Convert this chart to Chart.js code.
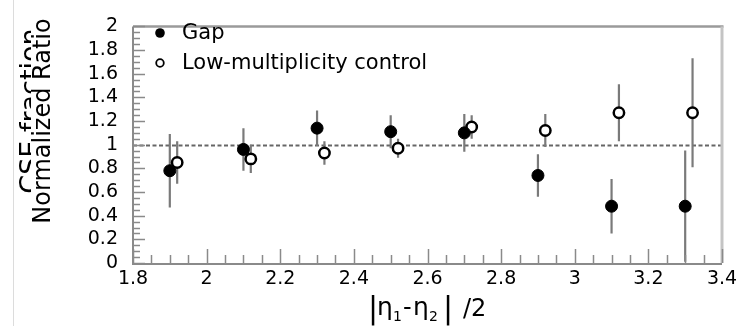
<!DOCTYPE html>
<html>
<head>
<meta charset="utf-8">
<script src="https://cdn.jsdelivr.net/npm/chart.js@4/dist/chart.umd.min.js"></script>
<style>
  html, body { margin: 0; padding: 0; background: #fff; }
  #wrap { width: 746px; height: 326px; position: relative; }
  canvas { display: block; }
</style>
</head>
<body>
<div id="wrap"><canvas id="c" width="746" height="326"></canvas></div>
<script>
// Bin centres (|eta1-eta2|/2) and measured normalized ratios
const gapX = [1.90, 2.10, 2.30, 2.50, 2.70, 2.90, 3.10, 3.30];
const gapY = [0.78, 0.96, 1.14, 1.11, 1.10, 0.74, 0.48, 0.48];
const gapErr = [0.31, 0.18, 0.15, 0.14, 0.16, 0.18, 0.23, 0.47];

const ctrlX = [1.92, 2.12, 2.32, 2.52, 2.72, 2.92, 3.12, 3.32];
const ctrlY = [0.85, 0.88, 0.93, 0.97, 1.15, 1.12, 1.27, 1.27];
const ctrlErr = [0.18, 0.12, 0.10, 0.08, 0.10, 0.14, 0.24, 0.46];

const xTicks = [1.8, 2.0, 2.2, 2.4, 2.6, 2.8, 3.0, 3.2, 3.4];
const yTicks = [0, 0.2, 0.4, 0.6, 0.8, 1.0, 1.2, 1.4, 1.6, 1.8, 2.0];
const seriesNames = ['Gap', 'Low-multiplicity control'];

const FONT = '"DejaVu Sans", sans-serif';

function toPoints(xs, ys) { return xs.map((x, i) => ({ x: x, y: ys[i] })); }
function fmt(v) { return String(Number(v.toFixed(2))); }

const errors = [gapErr, ctrlErr];

const decorations = {
  id: 'decorations',
  beforeDatasetsDraw(chart) {
    const { ctx, chartArea: a, scales: { x, y } } = chart;
    ctx.save();
    // reference line at ratio = 1
    ctx.strokeStyle = '#666';
    ctx.lineWidth = 1.8;
    ctx.setLineDash([4, 2.5]);
    const y1 = Math.round(y.getPixelForValue(1)) + 0.5;
    ctx.beginPath(); ctx.moveTo(a.left, y1); ctx.lineTo(a.right, y1); ctx.stroke();
    ctx.setLineDash([]);
    // vertical error bars
    ctx.beginPath(); ctx.rect(a.left, a.top, a.right - a.left, a.bottom - a.top); ctx.clip();
    chart.data.datasets.forEach((ds, di) => {
      ctx.strokeStyle = '#7a7a7a';
      ctx.lineWidth = 2.2;
      ds.data.forEach((p, i) => {
        const e = errors[di][i];
        const px = x.getPixelForValue(p.x);
        ctx.beginPath();
        ctx.moveTo(px, y.getPixelForValue(p.y + e));
        ctx.lineTo(px, y.getPixelForValue(p.y - e));
        ctx.stroke();
      });
    });
    ctx.restore();
  },
  afterDraw(chart) {
    const { ctx, chartArea: a, scales: { x, y } } = chart;
    ctx.save();
    // thin page rule on the far left
    ctx.strokeStyle = '#dcdcdc'; ctx.lineWidth = 1;
    ctx.beginPath(); ctx.moveTo(13.5, 0); ctx.lineTo(13.5, 326); ctx.stroke();

    // frame
    ctx.strokeStyle = '#9a9a9a'; ctx.lineWidth = 2.5;
    ctx.beginPath(); ctx.moveTo(a.left, a.top); ctx.lineTo(a.right + 1.5, a.top); ctx.stroke();
    ctx.strokeStyle = '#c4c4c4'; ctx.lineWidth = 3;
    ctx.beginPath(); ctx.moveTo(a.right, a.top); ctx.lineTo(a.right, a.bottom); ctx.stroke();
    ctx.strokeStyle = '#8a8a8a'; ctx.lineWidth = 2;
    ctx.beginPath(); ctx.moveTo(a.left, a.top); ctx.lineTo(a.left, a.bottom + 1); ctx.lineTo(a.right, a.bottom + 1); ctx.stroke();

    // inward tick marks (major 0.2, minor 0.05)
    ctx.lineWidth = 1.5; ctx.strokeStyle = '#8a8a8a';
    for (let k = 0; k <= 40; k++) {
      const v = k * 0.05;
      const py = Math.round(y.getPixelForValue(v)) + 0.5;
      const len = (k % 4 === 0) ? 12 : 7;
      ctx.beginPath(); ctx.moveTo(a.left, py); ctx.lineTo(a.left + len, py); ctx.stroke();
    }
    for (let k = 0; k <= 32; k++) {
      const v = 1.8 + k * 0.05;
      const px = Math.round(x.getPixelForValue(v)) + 0.5;
      const len = (k % 4 === 0) ? 14 : 8;
      ctx.beginPath(); ctx.moveTo(px, a.bottom); ctx.lineTo(px, a.bottom - len); ctx.stroke();
    }

    // legend
    ctx.fillStyle = '#000';
    ctx.beginPath(); ctx.arc(160, 33, 4.8, 0, Math.PI * 2); ctx.fill();
    ctx.strokeStyle = '#000'; ctx.lineWidth = 1.8;
    ctx.fillStyle = '#fff';
    ctx.beginPath(); ctx.arc(160, 63, 3.8, 0, Math.PI * 2); ctx.fill(); ctx.stroke();
    ctx.fillStyle = '#000';
    ctx.font = '21px ' + FONT;
    ctx.textAlign = 'left'; ctx.textBaseline = 'alphabetic';
    ctx.fillText(seriesNames[0], 182, 39);
    ctx.fillText(seriesNames[1], 182, 69);

    // y-axis title (two overlapping lines, the rear one partly hidden)
    ctx.save();
    ctx.beginPath(); ctx.rect(0, 0, 31, 326); ctx.clip();
    ctx.translate(39, 111); ctx.rotate(-Math.PI / 2);
    ctx.font = '27px ' + FONT; ctx.textAlign = 'center'; ctx.fillStyle = '#000';
    ctx.fillText('CSE fraction', 0, 0);
    ctx.restore();
    ctx.save();
    ctx.translate(50, 121); ctx.rotate(-Math.PI / 2);
    ctx.font = '24px ' + FONT; ctx.textAlign = 'center'; ctx.fillStyle = '#000';
    ctx.fillText('Normalized Ratio', 0, 0);
    ctx.restore();

    // x-axis title |eta1-eta2| /2
    ctx.fillStyle = '#000'; ctx.textAlign = 'left';
    ctx.font = '30px ' + FONT;
    ctx.fillText('|', 368, 318);
    ctx.font = '25px ' + FONT;
    ctx.fillText('\u03b7', 377, 315);
    ctx.font = '14px ' + FONT;
    ctx.fillText('1', 393, 321);
    ctx.font = '24px ' + FONT;
    ctx.fillText('-', 403, 315);
    ctx.font = '25px ' + FONT;
    ctx.fillText('\u03b7', 413, 315);
    ctx.font = '14px ' + FONT;
    ctx.fillText('2', 429, 321);
    ctx.font = '30px ' + FONT;
    ctx.fillText('|', 443, 318);
    ctx.font = '24px ' + FONT;
    ctx.fillText('/2', 463, 316);
    ctx.restore();
  }
};

new Chart(document.getElementById('c'), {
  type: 'scatter',
  data: {
    datasets: [
      {
        label: seriesNames[0],
        data: toPoints(gapX, gapY),
        pointStyle: 'circle',
        pointRadius: 6,
        pointBackgroundColor: '#000',
        pointBorderColor: '#000',
        pointBorderWidth: 1
      },
      {
        label: seriesNames[1],
        data: toPoints(ctrlX, ctrlY),
        pointStyle: 'circle',
        pointRadius: 5.2,
        pointBackgroundColor: '#fff',
        pointBorderColor: '#000',
        pointBorderWidth: 2.5
      }
    ]
  },
  options: {
    responsive: false,
    animation: false,
    devicePixelRatio: 1,
    layout: { padding: { left: 0, top: 13, right: 24, bottom: 0 } },
    plugins: { legend: { display: false }, tooltip: { enabled: false } },
    scales: {
      x: {
        type: 'linear', min: 1.8, max: 3.4,
        afterBuildTicks(s) { s.ticks = xTicks.map(v => ({ value: v })); },
        afterFit(s) { s.height = 63; },
        border: { display: false },
        grid: { display: false, drawTicks: false },
        ticks: {
          autoSkip: false, maxRotation: 0, padding: 5,
          color: '#000', font: { family: FONT, size: 19 },
          callback: v => fmt(v)
        }
      },
      y: {
        type: 'linear', min: 0, max: 2,
        afterBuildTicks(s) { s.ticks = yTicks.map(v => ({ value: v })); },
        afterFit(s) { s.width = 133; },
        border: { display: false },
        grid: { display: false, drawTicks: false },
        ticks: {
          autoSkip: false, padding: 15,
          color: '#000', font: { family: FONT, size: 19 },
          callback: v => fmt(v)
        }
      }
    }
  },
  plugins: [decorations]
});
</script>
</body>
</html>
